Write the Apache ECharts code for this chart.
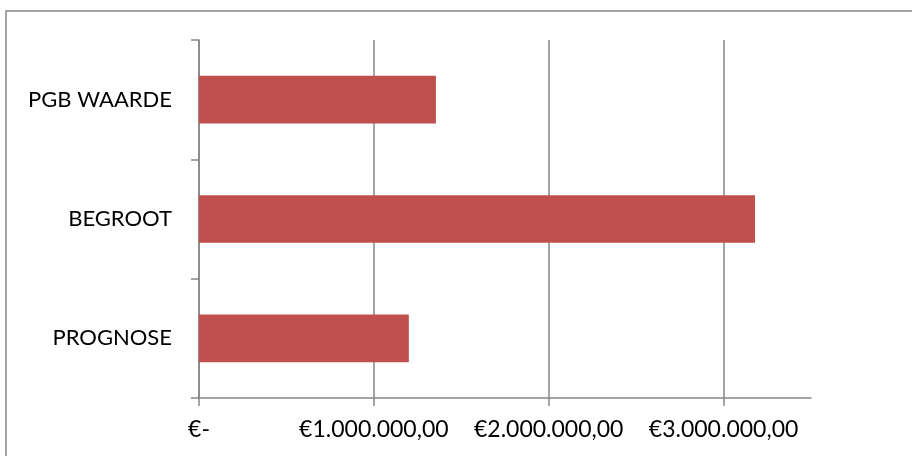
<!DOCTYPE html>
<html><head><meta charset="utf-8">
<script src="https://cdn.jsdelivr.net/npm/echarts@6/dist/echarts.min.js"></script>
<style>html,body{margin:0;padding:0;background:#fff}#c{width:912px;height:456px}</style>
</head><body><div id="c"></div>
<script>
var categories = ['PROGNOSE', 'BEGROOT', 'PGB WAARDE'];
var values = [1200000, 3180000, 1355000];
var axisMax = 3500000;
var axisStep = 1000000;
var tickValues = [0, 1000000, 2000000, 3000000];

function fmt(v) {
  if (v === 0) return '€-';
  var s = Math.round(v).toString().replace(/\B(?=(\d{3})+(?!\d))/g, '.');
  return '€' + s + ',00';
}

var chart = echarts.init(document.getElementById('c'), null, {renderer: 'canvas'});
var grey = '#868686';
var font = 'Lato, "Open Sans", sans-serif';
chart.setOption({
  animation: false,
  textStyle: {fontFamily: font},
  graphic: [{
    type: 'rect', shape: {x: 6, y: 11, width: 940, height: 480},
    style: {fill: 'none', stroke: '#868686', lineWidth: 1.5}, silent: true
  }],
  grid: {left: 199, right: 101, top: 40, bottom: 58, containLabel: false},
  xAxis: {
    type: 'value', min: 0, max: axisMax, interval: axisStep,
    axisLine: {show: true, lineStyle: {color: grey, width: 1.5}},
    axisTick: {show: true, length: 8, customValues: tickValues, lineStyle: {color: grey, width: 1.5}},
    splitLine: {show: true, lineStyle: {color: grey, width: 1.5}},
    axisLabel: {formatter: fmt, color: '#000', fontSize: 23, margin: 20, fontFamily: font,
      customValues: tickValues}
  },
  yAxis: {
    type: 'category', data: categories,
    axisLine: {show: true, lineStyle: {color: grey, width: 1.5}},
    axisTick: {show: true, length: 8, lineStyle: {color: grey, width: 1.5}},
    axisLabel: {color: '#000', fontSize: 22, margin: 27, fontFamily: font}
  },
  series: [{
    type: 'bar', data: values, barCategoryGap: '60%',
    itemStyle: {color: '#C0504D'}
  }]
});
</script></body></html>
